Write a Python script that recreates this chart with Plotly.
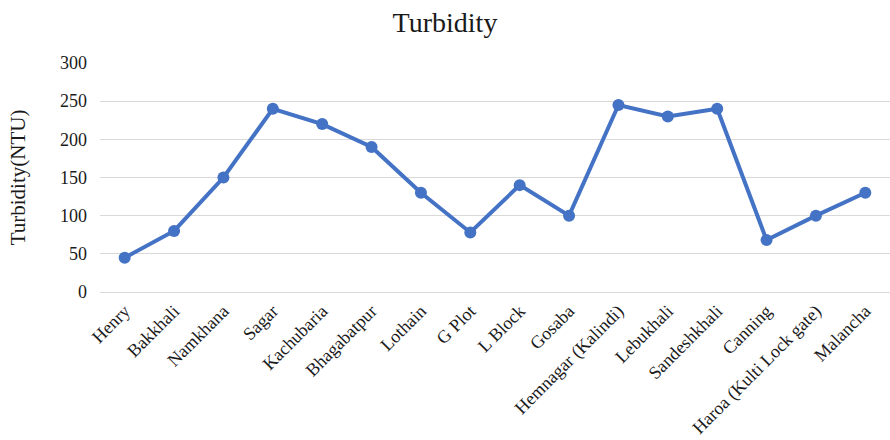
import plotly.graph_objects as go

# Sampling sites and measured turbidity (NTU)
sites = [
    "Henry", "Bakkhali", "Namkhana", "Sagar", "Kachubaria", "Bhagabatpur",
    "Lothain", "G Plot", "L Block", "Gosaba", "Hemnagar (Kalindi)",
    "Lebukhali", "Sandeshkhali", "Canning", "Haroa (Kulti Lock gate)", "Malancha",
]
turbidity = [45, 80, 150, 240, 220, 190, 130, 78, 140, 100, 245, 230, 240, 68, 100, 130]

y_ticks = [0, 50, 100, 150, 200, 250, 300]

SERIF = "Liberation Serif, Times New Roman, serif"
LINE_COLOR = "#4472C4"
TEXT_COLOR = "#1a1a1a"

fig = go.Figure(
    go.Scatter(
        x=sites,
        y=turbidity,
        mode="lines+markers",
        line=dict(color=LINE_COLOR, width=4),
        marker=dict(color=LINE_COLOR, size=12),
        showlegend=False,
    )
)

fig.update_layout(
    width=890,
    height=440,
    paper_bgcolor="white",
    plot_bgcolor="white",
    margin=dict(l=100, r=0, t=63, b=148),
    title=dict(
        text="Turbidity",
        x=0.5,
        xanchor="center",
        y=0.95,
        yanchor="middle",
        font=dict(family=SERIF, size=28, color=TEXT_COLOR),
    ),
    font=dict(family=SERIF, color=TEXT_COLOR),
)

fig.update_xaxes(
    type="category",
    range=[-0.5, len(sites) - 0.5],
    tickangle=-45,
    tickfont=dict(family=SERIF, size=18, color=TEXT_COLOR),
    showgrid=False,
    showline=False,
    zeroline=False,
    ticks="",
    ticklabelstandoff=4,
)

fig.update_yaxes(
    range=[0, 300],
    tickvals=y_ticks,
    tickfont=dict(family=SERIF, size=18, color=TEXT_COLOR),
    showgrid=True,
    gridcolor="#d9d9d9",
    gridwidth=1,
    zeroline=True,
    zerolinecolor="#d9d9d9",
    zerolinewidth=1,
    showline=False,
    ticks="",
    ticklabelstandoff=12,
    title=dict(
        text="Turbidity(NTU)",
        font=dict(family=SERIF, size=21, color=TEXT_COLOR),
        standoff=28,
    ),
)

fig.write_html("out.html")
